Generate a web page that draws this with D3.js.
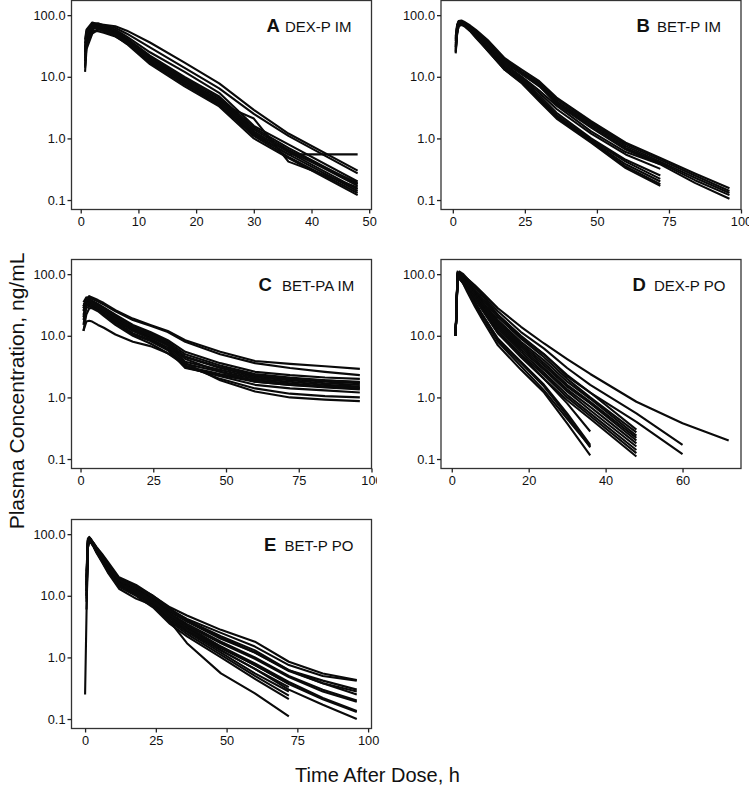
<!DOCTYPE html>
<html><head><meta charset="utf-8">
<script src="https://cdn.jsdelivr.net/npm/d3@7"></script>
<style>body{margin:0;background:#fff} svg{display:block} text{font-family:"Liberation Sans",Arial,Helvetica,sans-serif}</style>
</head><body><svg id="c" width="749" height="787"></svg>
<script>
// ---------- data ----------
const yTickValues = [0.1, 1, 10, 100];

const timesA = [0.75, 1, 2, 3, 4, 6, 8, 12, 18, 24, 30, 36, 48];
const concA = [
  [25, 45, 68, 72, 70, 66, 56, 36, 17, 7.8, 2.9, 1.2, 0.30],
  [20, 40, 62, 70, 68, 62, 50, 30, 14, 6.5, 2.5, 1.1, 0.27],
  [30, 50, 72, 74, 68, 58, 45, 25, 12, 5.5, 1.6, 0.8, 0.20],
  [15, 35, 58, 66, 64, 55, 42, 22, 10, 4.8, 1.5, 0.7, 0.18],
  [40, 58, 76, 72, 64, 52, 40, 21, 9.5, 4.5, 1.4, 0.65, 0.17],
  [12, 28, 50, 58, 60, 52, 40, 20, 9, 4.2, 1.3, 0.6, 0.15],
  [22, 42, 62, 64, 60, 50, 38, 19, 8.5, 3.9, 1.2, 0.55, 0.14],
  [18, 38, 55, 55, 52, 45, 35, 17, 7.5, 3.5, 1.1, 0.5, 0.13],
  [35, 55, 70, 66, 58, 47, 36, 18, 8, 3.7, 2.1, 0.42, 0.16],
  [25, 45, 66, 62, 56, 46, 34, 16, 7, 3.3, 1.0, 0.48, 0.12],
  [14, 32, 52, 60, 58, 50, 38, 18, 8, 3.8, 1.15, 0.55, 0.55],
  [28, 48, 64, 60, 55, 48, 37, 19, 8.8, 4.0, 1.25, 0.62, 0.19]
];

const timesB = [1, 1.5, 2, 3, 4, 6, 8, 12, 18, 24, 30, 36, 48, 60, 72, 84, 96];
const concB = [
  [30, 60, 75, 80, 78, 68, 58, 40, 20, 13, 8.5, 4.6, 1.9, 0.85, 0.48, 0.27, 0.155],
  [25, 55, 70, 76, 74, 65, 55, 38, 19, 12, 8, 4.3, 1.8, 0.8, 0.45, 0.25, 0.14],
  [40, 65, 78, 78, 74, 64, 54, 36, 18, 11.5, 7.5, 4.0, 1.7, 0.75, 0.42, 0.23, 0.13],
  [35, 62, 72, 74, 70, 60, 50, 34, 17, 11, 7, 3.8, 1.6, 0.7, 0.40, 0.21, 0.12],
  [28, 50, 66, 72, 70, 62, 52, 35, 17.5, 11, 7.2, 3.6, 1.5, 0.66, 0.38, 0.19, 0.105],
  [45, 70, 80, 82, 76, 64, 52, 34, 16, 10, 6, 3.4, 1.3, 0.6, 0.38, null, null],
  [30, 58, 74, 76, 72, 62, 50, 32, 15, 9.5, 5.5, 3.0, 1.2, 0.55, 0.32, null, null],
  [38, 66, 76, 74, 70, 58, 46, 30, 14, 9, 5, 2.6, 1.0, 0.45, 0.25, null, null],
  [26, 52, 68, 72, 68, 57, 45, 29, 14, 8.5, 4.6, 2.4, 0.95, 0.42, 0.22, null, null],
  [32, 60, 72, 74, 68, 56, 44, 28, 13.5, 8.2, 4.4, 2.3, 0.9, 0.38, 0.20, null, null],
  [42, 68, 78, 76, 70, 58, 45, 27, 13, 8, 4.2, 2.2, 0.88, 0.35, 0.18, null, null],
  [24, 50, 66, 70, 66, 55, 43, 27, 13, 7.8, 4.0, 2.1, 0.85, 0.33, 0.17, null, null]
];

const timesC = [1, 2, 3, 4, 6, 8, 12, 18, 24, 30, 36, 48, 60, 72, 84, 96];
const concC = [
  [30, 40, 44, 42, 38, 34, 26, 19, 15, 12, 8.5, 5.5, 3.9, 3.5, 3.2, 2.9],
  [25, 36, 42, 40, 36, 32, 25, 18, 14.5, 11.5, 8, 5.0, 3.6, 3.0, 2.6, 2.3],
  [35, 42, 40, 37, 33, 29, 22, 15, 11.5, 8.5, 5.5, 3.6, 2.6, 2.3, 2.1, 2.0],
  [20, 34, 38, 36, 32, 28, 21, 14, 11, 8, 5.0, 3.3, 2.4, 2.1, 1.9, 1.8],
  [28, 38, 36, 34, 30, 26, 20, 13, 10, 7.5, 4.5, 3.0, 2.2, 2.0, 1.8, 1.7],
  [15, 30, 34, 33, 29, 25, 19, 12.5, 9.5, 7, 3.8, 2.8, 2.1, 1.9, 1.7, 1.6],
  [32, 36, 34, 31, 27, 24, 18, 12, 9, 6.5, 3.5, 2.6, 2.0, 1.8, 1.6, 1.5],
  [22, 32, 33, 31, 28, 24, 18, 12, 9, 6, 3.2, 2.4, 1.9, 1.7, 1.5, 1.4],
  [18, 28, 30, 29, 26, 22, 17, 11, 8.5, 6, 3.0, 2.3, 1.8, 1.6, 1.45, 1.35],
  [26, 32, 31, 29, 26, 22, 16, 10.5, 8.2, 5.8, 3.1, 2.2, 1.6, 1.4, 1.3, 1.2],
  [12, 22, 28, 28, 25, 21, 15, 10, 7.5, 5.2, 3.3, 2.0, 1.4, 1.15, 1.05, 1.0],
  [12, 17, 17.5, 17, 15, 13.5, 10.5, 8, 6.8, 5.2, 3.6, 1.9, 1.25, 1.0, 0.92, 0.87],
  [28, 35, 34, 32, 29, 25, 19, 13, 10, 7, 4.2, 2.6, 1.8, 1.6, 1.5, 1.45],
  [30, 38, 37, 34, 31, 27, 21, 14, 10.5, 7.5, 4.6, 3.1, 2.3, 2.0, 1.9, 1.75]
];

const timesD = [1, 1.5, 2, 3, 4, 6, 8, 12, 18, 24, 30, 36, 48, 60, 72];
const concD = [
  [10, 95, 105, 95, 85, 66, 50, 28, 14, 7.5, 4.2, 2.4, 0.85, 0.38, 0.2],
  [11, 90, 100, 92, 80, 62, 46, 25, 11.5, 6.2, 3.0, 1.6, 0.55, 0.17, null],
  [10, 85, 110, 100, 85, 62, 44, 22, 9.5, 5.0, 2.3, 1.2, 0.40, 0.12, null],
  [10, 100, 95, 88, 76, 56, 40, 22, 10, 5, 2.2, 1.2, 0.30, null, null],
  [12, 80, 90, 85, 74, 54, 38, 20, 9, 4.5, 2.0, 1.0, 0.27, null, null],
  [10, 105, 100, 88, 72, 50, 35, 18, 8, 4.0, 1.8, 0.95, 0.24, null, null],
  [11, 90, 95, 82, 70, 50, 34, 17, 7.5, 3.6, 1.6, 0.85, 0.22, null, null],
  [10, 75, 88, 80, 68, 48, 33, 16, 7, 3.3, 1.5, 0.8, 0.2, null, null],
  [10, 110, 98, 84, 70, 48, 32, 15, 6.5, 3.0, 1.35, 0.7, 0.18, null, null],
  [10, 95, 90, 78, 64, 45, 30, 14, 6, 2.8, 1.25, 0.62, 0.16, null, null],
  [10, 85, 92, 80, 66, 44, 29, 13, 5.5, 2.5, 1.1, 0.55, 0.14, null, null],
  [10, 100, 96, 82, 66, 44, 28, 12, 5, 2.3, 1.0, 0.5, 0.125, null, null],
  [10, 88, 86, 74, 60, 40, 26, 11, 4.5, 2.0, 0.9, 0.45, 0.11, null, null],
  [10, 95, 90, 76, 60, 40, 26, 11, 4.8, 2.0, 0.8, 0.28, null, null, null],
  [10, 105, 92, 75, 58, 36, 22, 9, 3.8, 1.6, 0.55, 0.17, null, null, null],
  [10, 90, 85, 70, 55, 34, 21, 8.5, 3.6, 1.5, 0.5, 0.155, null, null, null],
  [10, 100, 88, 70, 52, 30, 18, 7, 2.8, 1.2, 0.38, 0.115, null, null, null],
  [10, 80, 84, 72, 56, 34, 20, 8, 3.2, 1.3, 0.45, 0.16, null, null, null]
];

const timesE = [0, 0.5, 1, 1.5, 2, 3, 4, 6, 8, 12, 18, 24, 30, 36, 48, 60, 72, 84, 96];
const concE = [
  [null, 8, 70, 85, 80, 72, 62, 48, 36, 20, 15, 10, 6.5, 4.8, 2.8, 1.8, 0.85, 0.55, 0.43],
  [null, 12, 75, 82, 78, 70, 60, 46, 34, 19, 14, 9.5, 6.0, 4.2, 2.5, 1.5, 0.75, 0.5, 0.42],
  [null, 15, 80, 88, 82, 70, 58, 44, 32, 18, 14, 10, 6.2, 4.0, 2.2, 1.3, 0.62, 0.42, 0.30],
  [null, 10, 65, 78, 75, 66, 56, 42, 31, 18, 13, 9, 5.5, 3.8, 2.0, 1.2, 0.6, 0.38, 0.28],
  [null, 20, 85, 90, 82, 70, 58, 43, 31, 17.5, 13, 8.5, 5.2, 3.5, 1.8, 1.0, 0.5, 0.3, 0.2],
  [null, 6, 60, 80, 78, 68, 57, 41, 30, 17, 12.5, 8.5, 5, 3.3, 1.7, 0.95, 0.48, 0.28, 0.19],
  [null, 18, 78, 85, 80, 68, 55, 40, 29, 16, 12, 8, 4.6, 3.0, 1.5, 0.8, 0.4, 0.22, 0.135],
  [null, 14, 72, 80, 76, 66, 54, 39, 28, 16, 12, 7.8, 4.5, 2.9, 1.4, 0.75, 0.37, 0.21, 0.13],
  [null, 25, 82, 86, 78, 66, 54, 38, 27, 15, 11, 7.5, 4.3, 2.7, 1.3, 0.65, 0.3, 0.17, 0.10],
  [null, 10, 70, 80, 76, 66, 55, 40, 29, 16, 12, 8.5, 4.8, 3.2, 1.5, 0.75, 0.38, null, null],
  [null, 16, 76, 84, 78, 68, 56, 40, 28, 15.5, 11.5, 8, 4.4, 2.9, 1.3, 0.65, 0.33, null, null],
  [null, 12, 68, 78, 74, 64, 53, 38, 27, 15, 11, 7.5, 4, 2.6, 1.2, 0.55, 0.28, null, null],
  [null, 20, 80, 82, 76, 64, 52, 37, 26, 14.5, 10.5, 7, 3.8, 2.4, 1.1, 0.5, 0.24, null, null],
  [null, 9, 62, 76, 74, 64, 52, 36, 25, 14, 10, 6.5, 3.5, 2.2, 1.0, 0.45, 0.21, null, null],
  [null, 15, 72, 80, 74, 62, 50, 35, 24, 13, 9, 7, 3.8, 1.7, 0.55, 0.26, 0.11, null, null],
  [0.25, 5, 60, 88, 85, 72, 60, 44, 32, 18, 14, 9.5, 5.8, 3.9, 2.1, 1.2, 0.62, 0.38, 0.25]
];

const panelLetters = ["A", "B", "C", "D", "E"];
const panelNames = ["DEX-P IM", "BET-P IM", "BET-PA IM", "DEX-P PO", "BET-P PO"];
const xTicksList = [[0,10,20,30,40,50],[0,25,50,75,100],[0,25,50,75,100],[0,20,40,60],[0,25,50,75,100]];
const yTitle = "Plasma Concentration, ng/mL";
const xTitle = "Time After Dose, h";

// ---------- layout ----------
const W = 300, H = 209;
const layout = [
  {x0: 71.5, y0: 0.5, xDom: [-1.6, 50.4], lx: 195, tx: 213.5},
  {x0: 441,  y0: 0.5, xDom: [-4.1, 100], lx: 195.5, tx: 216},
  {x0: 71.5, y0: 259.5, xDom: [-3.1, 100], lx: 187, tx: 210.5, clipX: 377},
  {x0: 441,  y0: 259.5, xDom: [-2.8, 75.2], lx: 191.5, tx: 213},
  {x0: 71.5, y0: 519.5, xDom: [-4.8, 101.2], lx: 192.5, tx: 213}
];
const timesList = [timesA, timesB, timesC, timesD, timesE];
const concList = [concA, concB, concC, concD, concE];

const svg = d3.select("#c");
const defs = svg.append("defs");
const fmt = d3.format(".1f");

layout.forEach((L, i) => {
  const g = svg.append("g").attr("transform", `translate(${L.x0},${L.y0})`);
  const x = d3.scaleLinear().domain(L.xDom).range([0, W]);
  const y = d3.scaleLog().domain([0.0702, 173]).range([H, 0]);

  const cid = "clip" + i;
  defs.append("clipPath").attr("id", cid).append("rect").attr("width", W).attr("height", H);

  const line = d3.line()
    .defined(d => d[1] != null)
    .x(d => x(d[0])).y(d => y(d[1]));

  g.append("g").attr("clip-path", `url(#${cid})`)
    .selectAll("path").data(concList[i]).join("path")
    .attr("d", s => line(timesList[i].map((t, k) => [t, s[k]])))
    .attr("fill", "none").attr("stroke", "#0a0a0a").attr("stroke-width", 2.1)
    .attr("stroke-linejoin", "round");

  // frame
  g.append("rect").attr("width", W).attr("height", H)
    .attr("fill", "none").attr("stroke", "#333").attr("stroke-width", 1.3);

  // y axis
  const ya = g.append("g").call(d3.axisLeft(y).tickValues(yTickValues).tickFormat(fmt).tickSize(4).tickPadding(2));
  ya.select(".domain").remove();
  ya.selectAll("line").attr("stroke", "#222").attr("stroke-width", 1.3);
  ya.selectAll("text").attr("font-size", 12.8).attr("fill", "#111")
    .attr("font-family", '"Liberation Sans",Arial,sans-serif');

  // x axis
  const xa = g.append("g").attr("transform", `translate(0,${H})`)
    .call(d3.axisBottom(x).tickValues(xTicksList[i]).tickFormat(d3.format("d")).tickSize(4).tickPadding(3));
  xa.select(".domain").remove();
  xa.selectAll("line").attr("stroke", "#222").attr("stroke-width", 1.3);
  xa.selectAll("text").attr("font-size", 12.8).attr("fill", "#111")
    .attr("font-family", '"Liberation Sans",Arial,sans-serif');
  if (L.clipX) {
    const xc = "xclip" + i;
    defs.append("clipPath").attr("id", xc).append("rect")
      .attr("x", -20).attr("y", -5).attr("width", L.clipX - L.x0 + 20).attr("height", 40);
    xa.attr("clip-path", `url(#${xc})`);
  }

  // panel label
  g.append("text").attr("x", L.lx).attr("y", 31).attr("font-size", 18.5).attr("font-weight", "bold")
    .attr("fill", "#111").text(panelLetters[i]);
  g.append("text").attr("x", L.tx).attr("y", 31).attr("font-size", 15)
    .attr("fill", "#111").text(panelNames[i]);
});

svg.append("text").attr("transform", "translate(24,391) rotate(-90)")
  .attr("text-anchor", "middle").attr("font-size", 21).attr("fill", "#111").text(yTitle);
svg.append("text").attr("x", 377.5).attr("y", 782)
  .attr("text-anchor", "middle").attr("font-size", 20).attr("fill", "#111").text(xTitle);
</script></body></html>
